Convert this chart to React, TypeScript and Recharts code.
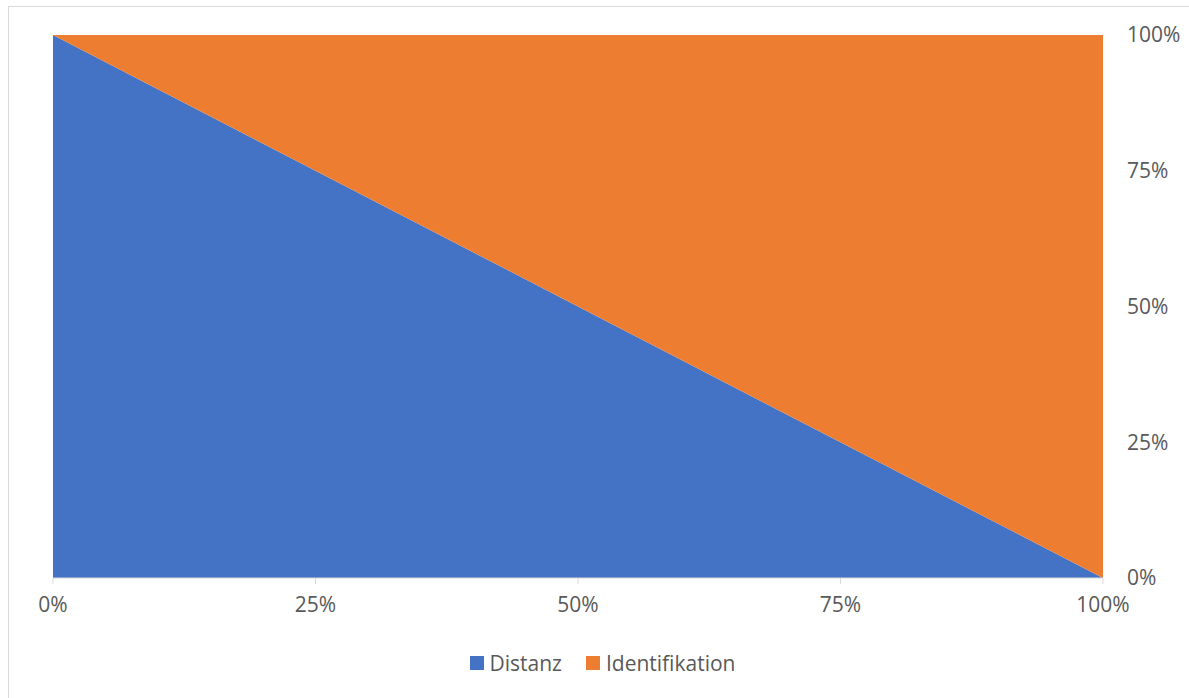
import { AreaChart, Area, XAxis, YAxis } from "recharts";

const shares = [0, 25, 50, 75, 100];
const distanz = [100, 75, 50, 25, 0];
const identifikation = [0, 25, 50, 75, 100];
const ticks = [0, 25, 50, 75, 100];

const series = [
  { key: "distanz", name: "Distanz", color: "#4472C4" },
  { key: "identifikation", name: "Identifikation", color: "#ED7D31" },
];

const data = shares.map((x, i) => ({
  x,
  distanz: distanz[i],
  identifikation: identifikation[i],
}));

const font = "'Open Sans', sans-serif";
const textColor = "#595959";

const pct = (v: number) => `${v}%`;

export default function App() {
  return (
    <div style={{ position: "absolute", left: 0, top: 0, width: 1189, height: 698, background: "#fff", overflow: "hidden", fontFamily: font }}>
      <div style={{ position: "absolute", left: 8, top: 6, width: 1200, height: 720, border: "1px solid #d9d9d9", boxSizing: "border-box" }} />
      <div style={{ position: "absolute", left: 0, top: 0 }}>
        <AreaChart width={1189} height={698} data={data} margin={{ top: 35, right: 16, bottom: 90, left: 53 }}>
          <XAxis
            dataKey="x"
            type="number"
            domain={[0, 100]}
            ticks={ticks}
            tickFormatter={pct}
            stroke="#d9d9d9"
            tickSize={6}
            tickMargin={13}
            height={30}
            tick={{ fill: textColor, fontSize: 21, fontFamily: font }}
          />
          <YAxis
            orientation="right"
            type="number"
            domain={[0, 100]}
            ticks={ticks}
            tickFormatter={pct}
            axisLine={false}
            tickLine={false}
            tickSize={0}
            tickMargin={24}
            width={70}
            tick={{ fill: textColor, fontSize: 21, fontFamily: font, textAnchor: "start" }}
          />
          {series.map((s) => (
            <Area
              key={s.key}
              dataKey={s.key}
              name={s.name}
              stackId="a"
              type="linear"
              fill={s.color}
              fillOpacity={1}
              stroke="none"
              isAnimationActive={false}
            />
          ))}
        </AreaChart>
      </div>
      <div style={{ position: "absolute", left: 8, width: 1189, top: 649, display: "flex", justifyContent: "center", gap: 24 }}>
        {series.map((s) => (
          <div key={s.key} style={{ display: "flex", alignItems: "center", gap: 6 }}>
            <div style={{ width: 14, height: 14, background: s.color }} />
            <span style={{ fontSize: 21, color: textColor, lineHeight: "28px" }}>{s.name}</span>
          </div>
        ))}
      </div>
    </div>
  );
}
